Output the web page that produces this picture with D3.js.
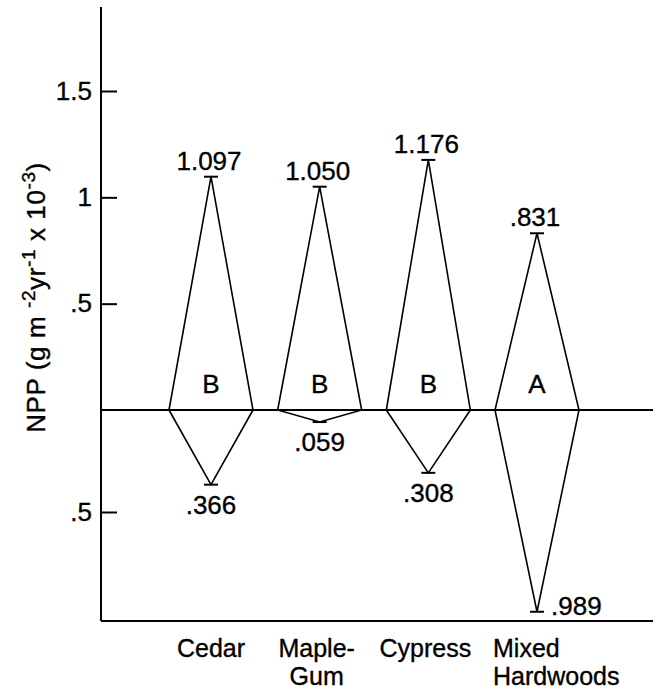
<!DOCTYPE html>
<html>
<head>
<meta charset="utf-8">
<script src="https://cdn.jsdelivr.net/npm/d3@7/dist/d3.min.js"></script>
<style>
  html, body { margin: 0; padding: 0; background: #fff; }
  svg { display: block; }
  text { font-family: "Liberation Sans", Arial, Helvetica, sans-serif; fill: #000; stroke: #000; stroke-width: 0.35px; }
</style>
</head>
<body>
<svg id="chart" width="659" height="691"></svg>
<script>
// ---- data ----
const categories = ["Cedar", "Maple-Gum", "Cypress", "Mixed Hardwoods"];
const categoryLines = [["Cedar"], ["Maple-", "Gum"], ["Cypress"], ["Mixed", "Hardwoods"]];
const upperValues = [1.097, 1.050, 1.176, 0.831];
const lowerValues = [0.366, 0.059, 0.308, 0.989];
const upperLabels = ["1.097", "1.050", "1.176", ".831"];
const lowerLabels = [".366", ".059", ".308", ".989"];
const groupLetters = ["B", "B", "B", "A"];
const upperTicks = [0.5, 1, 1.5];
const upperTickLabels = [".5", "1", "1.5"];
const lowerTicks = [0.5];
const lowerTickLabels = [".5"];

// ---- layout ----
const svg = d3.select("#chart");
const axisX = 101, zeroY = 410, plotRight = 653, axisTop = 7, axisBottom = 621;
const halfW = 42, capHalf = 7;
const FS = 26;

const x = d3.scalePoint().domain(categories).range([211, 537]);
const yUp = d3.scaleLinear().domain([0, 1.5]).range([zeroY, 91]);
const yDown = d3.scaleLinear().domain([0, 1]).range([zeroY, 614]);

// axis lines
svg.append("line").attr("x1", axisX).attr("x2", axisX).attr("y1", axisTop).attr("y2", axisBottom)
  .attr("stroke", "#000").attr("stroke-width", 2);
svg.append("line").attr("x1", axisX).attr("x2", plotRight).attr("y1", axisBottom).attr("y2", axisBottom)
  .attr("stroke", "#000").attr("stroke-width", 2);
svg.append("line").attr("x1", axisX).attr("x2", plotRight).attr("y1", zeroY).attr("y2", zeroY)
  .attr("stroke", "#000").attr("stroke-width", 2);

// y axes (ticks point right, labels left)
function styleAxis(g) {
  g.select(".domain").remove();
  g.selectAll(".tick line").attr("stroke", "#000").attr("stroke-width", 2);
  g.selectAll(".tick text").attr("font-size", FS).attr("font-family", null).attr("fill", "#000");
}
svg.append("g").attr("transform", `translate(${axisX},0)`)
  .call(d3.axisLeft(yUp).tickValues(upperTicks)
    .tickFormat((d, i) => upperTickLabels[i]).tickSizeInner(-16).tickSizeOuter(0).tickPadding(9))
  .call(styleAxis);
svg.append("g").attr("transform", `translate(${axisX},0)`)
  .call(d3.axisLeft(yDown).tickValues(lowerTicks)
    .tickFormat((d, i) => lowerTickLabels[i]).tickSizeInner(-16).tickSizeOuter(0).tickPadding(9))
  .call(styleAxis);

// diamonds
const g = svg.append("g");
categories.forEach((c, i) => {
  const cx = x(c);
  const top = yUp(upperValues[i]);
  const bot = yDown(lowerValues[i]);
  g.append("path")
    .attr("d", `M${cx - halfW},${zeroY} L${cx},${top} L${cx + halfW},${zeroY} L${cx},${bot} Z`)
    .attr("fill", "none").attr("stroke", "#000").attr("stroke-width", 1.6).attr("stroke-linejoin", "miter");
  // caps
  g.append("line").attr("x1", cx - capHalf).attr("x2", cx + capHalf).attr("y1", top).attr("y2", top)
    .attr("stroke", "#000").attr("stroke-width", 2);
  g.append("line").attr("x1", cx - capHalf).attr("x2", cx + capHalf).attr("y1", bot).attr("y2", bot)
    .attr("stroke", "#000").attr("stroke-width", 2);
  // upper value label
  g.append("text").attr("x", cx - 2).attr("y", top - 7).attr("text-anchor", "middle")
    .attr("font-size", FS).text(upperLabels[i]);
  // lower value label
  if (lowerValues[i] > 0.9) {
    g.append("text").attr("x", cx + 14).attr("y", bot + 3).attr("text-anchor", "start")
      .attr("font-size", FS).text(lowerLabels[i]);
  } else {
    g.append("text").attr("x", cx).attr("y", bot + 29).attr("text-anchor", "middle")
      .attr("font-size", FS).text(lowerLabels[i]);
  }
  // group letter
  g.append("text").attr("x", cx).attr("y", zeroY - 17).attr("text-anchor", "middle")
    .attr("font-size", FS).text(groupLetters[i]);
  // category label
  const lines = categoryLines[i];
  const multiLeft = lines.length > 1 && i === categories.length - 1;
  lines.forEach((ln, j) => {
    g.append("text").attr("font-size", 25)
      .attr("text-anchor", multiLeft ? "start" : "middle")
      .attr("x", multiLeft ? cx - 44 : cx + (i === 1 || i === 2 ? -3 : 0))
      .attr("y", 657 + j * 28).text(ln);
  });
});

// y title
const title = svg.append("text")
  .attr("transform", `translate(45,${(158 + 437) / 2}) rotate(-90)`)
  .attr("text-anchor", "middle").attr("font-size", 26).attr("letter-spacing", 0.6);
title.append("tspan").text("NPP (g m ");
title.append("tspan").attr("font-size", 19).attr("dy", -10).text("-2");
title.append("tspan").attr("dy", 10).text("yr");
title.append("tspan").attr("font-size", 19).attr("dy", -10).text("-1");
title.append("tspan").attr("dy", 10).text(" x 10");
title.append("tspan").attr("font-size", 19).attr("dy", -10).text("-3");
title.append("tspan").attr("dy", 10).text(")");
</script>
</body>
</html>
